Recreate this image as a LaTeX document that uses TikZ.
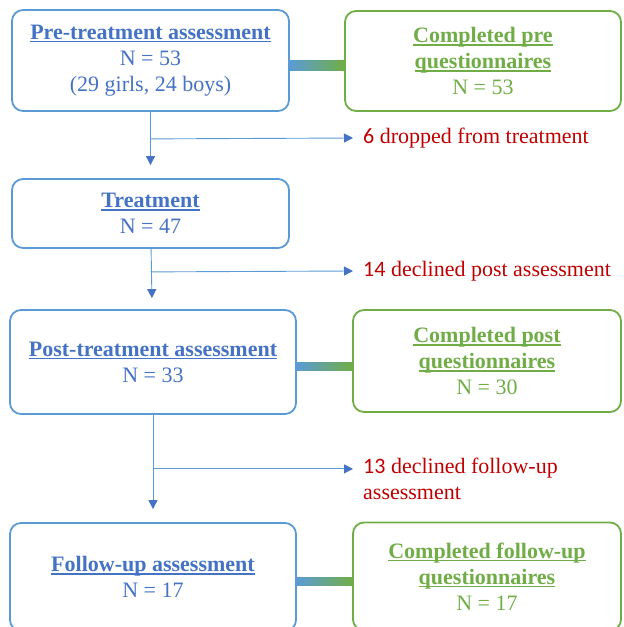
\documentclass[tikz,border=0pt]{standalone}
\usepackage{fontspec}
\setmainfont{Liberation Serif}
\newfontfamily\numfont{Carlito}
\usetikzlibrary{%
  arrows.meta,%
  calc,%
  backgrounds,%
}

\definecolor{boxblue}{HTML}{5B9BD5}
\definecolor{textblue}{HTML}{4472C4}
\definecolor{boxgreen}{HTML}{70AD47}
\definecolor{dropred}{HTML}{C00000}

\newcommand{\ulined}[1]{\setbox0\hbox{#1}\rlap{\rule[-3pt]{\wd0}{1.6pt}}\box0}

\begin{document}
\begin{tikzpicture}[x=1pt, y=-1pt, font=\fontsize{22}{26}\selectfont,
    assess/.style={draw=boxblue, line width=1.8pt, rounded corners=11pt, text=textblue, align=center},
    quest/.style={draw=boxgreen, line width=1.8pt, rounded corners=11pt, text=boxgreen, align=center},
    flow/.style={draw=boxblue, line width=0.9pt, -{Triangle[length=9pt, width=9pt, color=textblue]}},
    dropnote/.style={text=dropred, inner xsep=10pt, inner ysep=0pt}]

      \useasboundingbox (0, 0) rectangle (624, 627);

      \node[assess, minimum width=277pt, minimum height=101pt] (pre) at (150.5, 60.5)
        {\ulined{\textbf{Pre-treatment assessment}}\\ N = 53\\ (29 girls, 24 boys)};
      \node[quest, minimum width=276pt, minimum height=100pt] (prequest) at (483, 61)
        {\ulined{\textbf{Completed pre}}\\ \ulined{\textbf{questionnaires}}\\ N = 53};

      \node[assess, minimum width=277pt, minimum height=69pt] (treat) at (150.5, 213.5)
        {\ulined{\textbf{Treatment}}\\ N = 47};

      \node[assess, minimum width=286pt, minimum height=104pt] (post) at (153, 362)
        {\ulined{\textbf{Post-treatment assessment}}\\ N = 33};
      \node[quest, minimum width=268pt, minimum height=102pt] (postquest) at (487, 361)
        {\ulined{\textbf{Completed post}}\\ \ulined{\textbf{questionnaires}}\\ N = 30};

      \node[assess, minimum width=286pt, minimum height=108pt] (follow) at (153, 577)
        {\ulined{\textbf{Follow-up assessment}}\\ N = 17};
      \node[quest, minimum width=268pt, minimum height=108pt] (followquest) at (487, 576.5)
        {\ulined{\textbf{Completed follow-up}}\\ \ulined{\textbf{questionnaires}}\\ N = 17};

      \node[dropnote, anchor=west] (drop1) at (353, 138) {{\numfont 6} dropped from treatment};
      \node[dropnote, anchor=west] (drop2) at (353, 271) {{\numfont 14} declined post assessment};
      \node[dropnote, anchor=north west, align=left] (drop3) at (353, 458)
        {{\numfont 13} declined follow-up\\ assessment};

      \coordinate (split1) at ($(pre.south) + (0, 27)$);
      \coordinate (split2) at ($(treat.south) + (0, 23)$);
      \coordinate (split3) at ($(post.south) + (0, 54)$);

      \draw[flow, shorten >=13pt] (pre) -- (treat);
      \draw[flow, shorten >=11pt] (treat) -- (post);
      \draw[flow, shorten >=13pt] (post) -- (follow);

      \draw[flow] (split1) -- (drop1.west);
      \draw[flow] (split2) -- (drop2.west);
      \draw[flow] (split3) -- (split3 -| drop3.west);

      \begin{scope}[on background layer]
        \shade[left color=boxblue, right color=boxgreen] (pre.east) rectangle ($(prequest.west) + (0, 9)$);
        \shade[left color=boxblue, right color=boxgreen] (post.east) rectangle ($(postquest.west) + (0, 9)$);
        \shade[left color=boxblue, right color=boxgreen] (follow.east) rectangle ($(followquest.west) + (0, 9)$);
      \end{scope}
    \end{tikzpicture}
\end{document}
